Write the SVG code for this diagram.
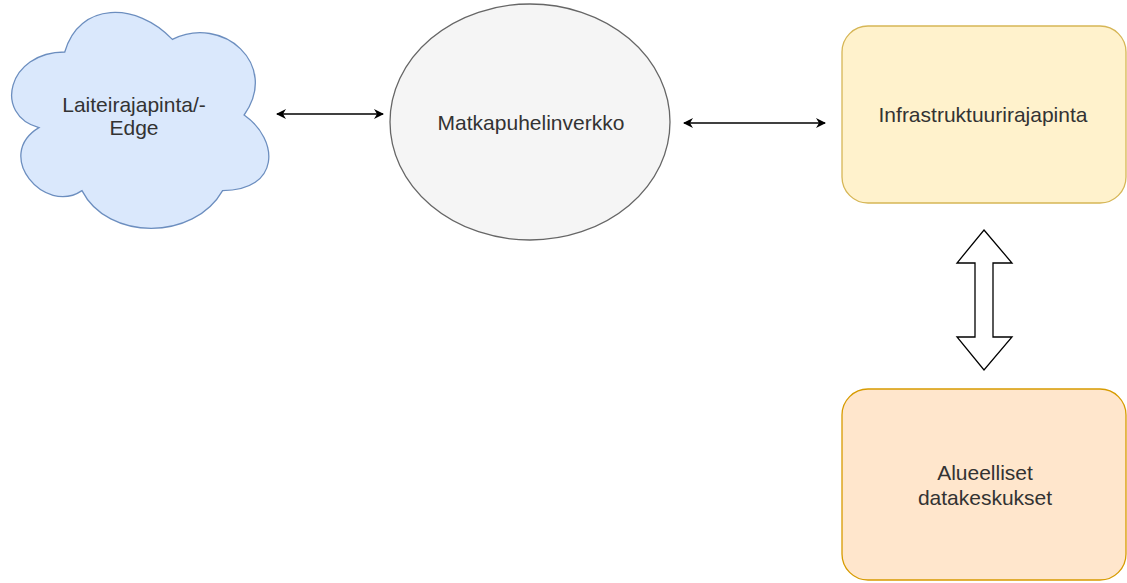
<svg xmlns="http://www.w3.org/2000/svg" width="1127" height="583" viewBox="0 0 1127 583">
  <defs>
    <marker id="arrowhead" viewBox="0 0 10 10" refX="9" refY="5" markerWidth="10" markerHeight="10" markerUnits="userSpaceOnUse" orient="auto-start-reverse">
      <path d="M0,0 L10,5 L0,10 L3,5 Z" fill="#000"/>
    </marker>
  </defs>
  <style>
    text { font-family: "Liberation Sans", Arial, sans-serif; font-size: 21px; fill: #333; text-anchor: middle; }
    .edge { stroke: #000; stroke-width: 1.5; fill: none; }
  </style>
  <rect width="1127" height="583" fill="#fff"/>

  <g id="node-edge">
    <path transform="translate(-7,-11) scale(287,252)" vector-effect="non-scaling-stroke" d="M0.25,0.25 C0.05,0.25 0,0.5 0.16,0.55 C0,0.66 0.18,0.9 0.31,0.8 C0.4,1 0.7,1 0.8,0.8 C1,0.8 1,0.6 0.875,0.5 C1,0.3 0.8,0.1 0.625,0.2 C0.5,0.05 0.3,0.05 0.25,0.25 Z" fill="#dae8fc" stroke="#6c8ebf" stroke-width="1.3"/>
    <text x="134" y="112">Laiteirajapinta/-</text>
    <text x="134" y="135">Edge</text>
  </g>

  <g id="node-mobile">
    <ellipse cx="530" cy="122" rx="140" ry="118" fill="#f5f5f5" stroke="#666" stroke-width="1.3"/>
    <text x="531" y="130">Matkapuhelinverkko</text>
  </g>

  <g id="node-infra">
    <rect x="842" y="26" width="284" height="177" rx="26" fill="#fff2cc" stroke="#d6b656" stroke-width="1.3"/>
    <text x="983" y="122">Infrastruktuurirajapinta</text>
  </g>

  <g id="node-datacenters">
    <rect x="842" y="389" width="284" height="191" rx="26" fill="#ffe6cc" stroke="#d79b00" stroke-width="1.3"/>
    <text x="985" y="480">Alueelliset</text>
    <text x="985" y="505">datakeskukset</text>
  </g>

  <g id="connectors">
    <line class="edge" x1="277" y1="114" x2="383" y2="114" marker-start="url(#arrowhead)" marker-end="url(#arrowhead)"/>
    <line class="edge" x1="684" y1="123" x2="825" y2="123" marker-start="url(#arrowhead)" marker-end="url(#arrowhead)"/>
    <path d="M984,230 L1012,263 L993,263 L993,337 L1012,337 L984,370 L957,337 L975,337 L975,263 L957,263 Z" fill="#fff" stroke="#000" stroke-width="1.3"/>
  </g>
</svg>
